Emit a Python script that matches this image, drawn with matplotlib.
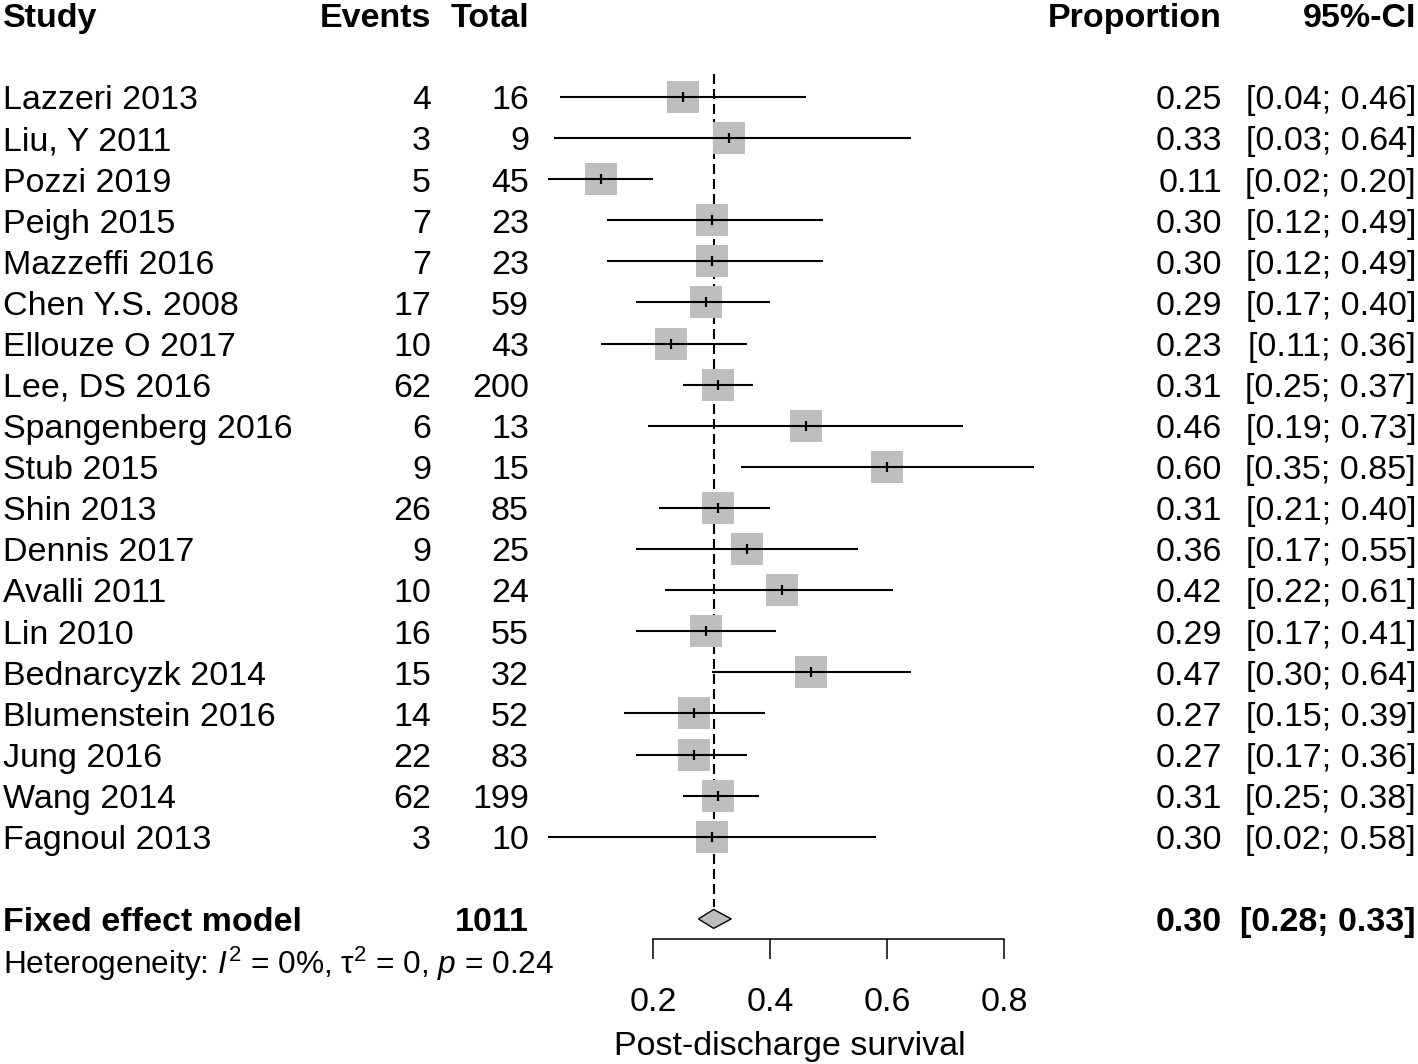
import matplotlib
matplotlib.use("Agg")
import matplotlib.pyplot as plt
import matplotlib.transforms as mtransforms
from matplotlib.patches import Polygon

plt.rcParams["font.family"] = ["Liberation Sans", "DejaVu Sans"]
plt.rcParams["mathtext.fontset"] = "custom"
plt.rcParams["mathtext.rm"] = "Liberation Sans"
plt.rcParams["mathtext.it"] = "Liberation Sans:italic"
plt.rcParams["mathtext.bf"] = "Liberation Sans:bold"

# data
studies = ["Lazzeri 2013", "Liu, Y 2011", "Pozzi 2019", "Peigh 2015", "Mazzeffi 2016",
           "Chen Y.S. 2008", "Ellouze O 2017", "Lee, DS 2016", "Spangenberg 2016",
           "Stub 2015", "Shin 2013", "Dennis 2017", "Avalli 2011", "Lin 2010",
           "Bednarcyzk 2014", "Blumenstein 2016", "Jung 2016", "Wang 2014", "Fagnoul 2013"]
events = [4, 3, 5, 7, 7, 17, 10, 62, 6, 9, 26, 9, 10, 16, 15, 14, 22, 62, 3]
totals = [16, 9, 45, 23, 23, 59, 43, 200, 13, 15, 85, 25, 24, 55, 32, 52, 83, 199, 10]
prop = [0.25, 0.33, 0.11, 0.30, 0.30, 0.29, 0.23, 0.31, 0.46, 0.60,
        0.31, 0.36, 0.42, 0.29, 0.47, 0.27, 0.27, 0.31, 0.30]
lower = [0.04, 0.03, 0.02, 0.12, 0.12, 0.17, 0.11, 0.25, 0.19, 0.35,
         0.21, 0.17, 0.22, 0.17, 0.30, 0.15, 0.17, 0.25, 0.02]
upper = [0.46, 0.64, 0.20, 0.49, 0.49, 0.40, 0.36, 0.37, 0.73, 0.85,
         0.40, 0.55, 0.61, 0.41, 0.64, 0.39, 0.36, 0.38, 0.58]
fixed_est, fixed_lo, fixed_hi = 0.303, 0.277, 0.333
ticks = [0.2, 0.4, 0.6, 0.8]
xlabel = "Post-discharge survival"
het_text = r"Heterogeneity: $I^2$ = 0%, τ$^2$ = 0, $p$ = 0.24"

fs = 24.5
grey = "#BEBEBE"

fig = plt.figure(figsize=(14.18, 10.64), dpi=100)
ax = fig.add_axes([0, 0, 1, 1])
ax.set_xlim(-0.917, 1.507)
ax.set_ylim(23.53, -2.36)
ax.axis("off")

rows = list(range(len(studies)))

# study boxes, CIs and point ticks
ax.scatter(prop, rows, marker="s", s=520, color=grey, linewidths=0, zorder=2)
ax.hlines(rows, lower, upper, color="black", lw=1.5, zorder=3)
ax.scatter(prop, rows, marker="|", s=46, color="black", linewidths=1.6, zorder=4)

# fixed effect line and diamond
fix_row = len(studies) + 1
ax.vlines(fixed_est, -0.56, fix_row - 0.3, colors="black", linestyles=(0, (4.8, 2.4)), lw=1.5, zorder=1)
diamond = Polygon([(fixed_lo, fix_row), (fixed_est, fix_row - 0.23),
                   (fixed_hi, fix_row), (fixed_est, fix_row + 0.23)],
                  closed=True, facecolor=grey, edgecolor="black", lw=1)
ax.add_patch(diamond)

# text columns
tr = mtransforms.blended_transform_factory(ax.transAxes, ax.transData)
x_study, x_events, x_total = 3 / 1418, 431 / 1418, 529 / 1418
x_prop, x_ci = 1222 / 1418, 1416 / 1418
dy = 0.3

def row_text(y, cols, weight="normal"):
    for x, s, ha in cols:
        ax.text(x, y + dy, s, transform=tr, ha=ha, va="baseline", fontsize=fs, fontweight=weight)

row_text(-2, [(x_study, "Study", "left"), (x_events, "Events", "right"),
              (x_total, "Total", "right"), (x_prop, "Proportion", "right"),
              (x_ci, "95%-CI", "right")], weight="bold")

for i in rows:
    row_text(i, [(x_study, studies[i], "left"), (x_events, str(events[i]), "right"),
                 (x_total, str(totals[i]), "right"), (x_prop, f"{prop[i]:.2f}", "right"),
                 (x_ci, f"[{lower[i]:.2f}; {upper[i]:.2f}]", "right")])

row_text(fix_row, [(x_study, "Fixed effect model", "left"), (x_total, str(sum(totals)), "right"),
                   (x_prop, f"{fixed_est:.2f}", "right"),
                   (x_ci, f"[{fixed_lo:.2f}; {fixed_hi:.2f}]", "right")], weight="bold")

ax.text(x_study, fix_row + 1.05 + dy, het_text, transform=tr, ha="left", va="baseline", fontsize=fs * 0.93)

# x axis
axx = fig.add_axes([0, 1 - 939 / 1064, 1, 0.0001], sharex=ax)
axx.set_facecolor("none")
for side in ["top", "left", "right"]:
    axx.spines[side].set_visible(False)
axx.spines["bottom"].set_bounds(ticks[0], ticks[-1])
axx.spines["bottom"].set_linewidth(1.1)
axx.set_yticks([])
axx.set_xticks(ticks)
axx.set_xticklabels([f"{t:.1f}" for t in ticks])
axx.tick_params(axis="x", direction="out", length=14.4, width=1.1, labelsize=fs, pad=20.5)
axx.set_xlim(-0.917, 1.507)

ax.text(0.433, fix_row + 3 + dy, xlabel, ha="center", va="baseline", fontsize=fs)

fig.savefig("out.png", dpi=100)
